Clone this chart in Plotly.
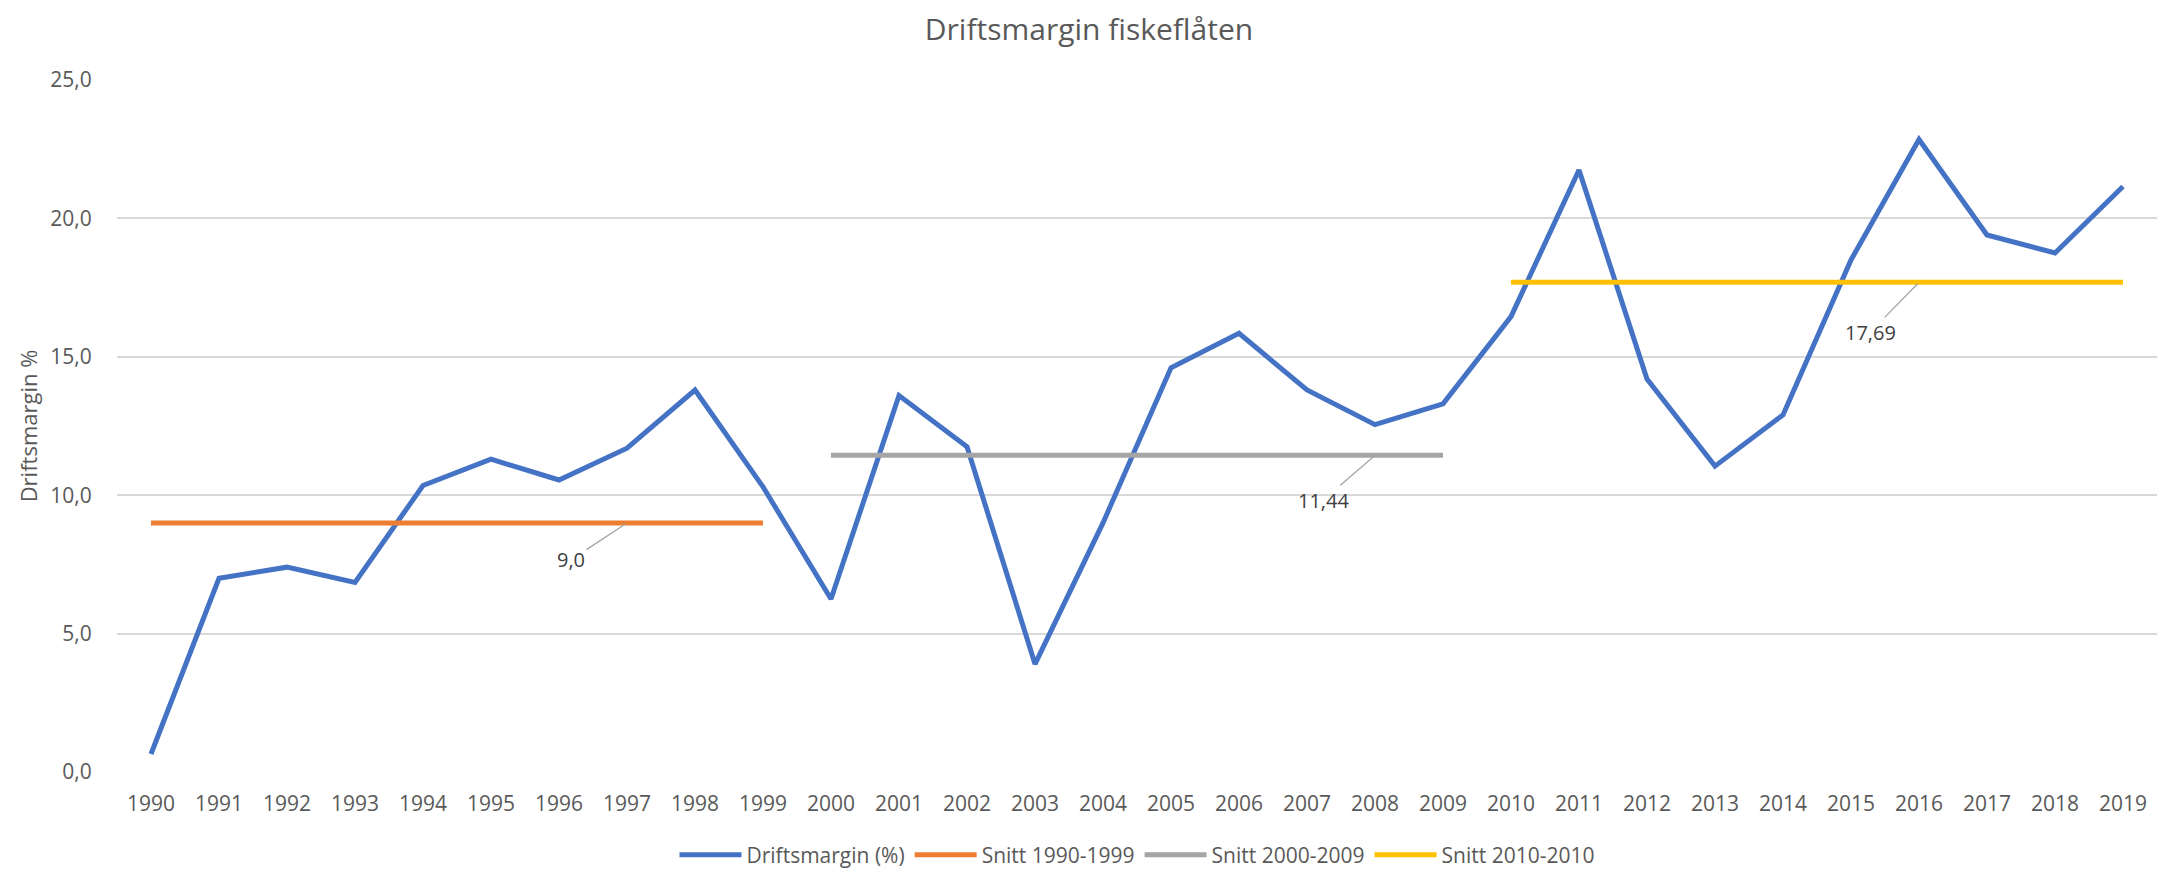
import plotly.graph_objects as go

years = [str(y) for y in range(1990, 2020)]
driftsmargin = [0.65, 7.0, 7.4, 6.85, 10.35, 11.3, 10.55, 11.7, 13.8, 10.3,
                6.25, 13.6, 11.75, 3.9, 9.0, 14.6, 15.85, 13.8, 12.55, 13.3,
                16.45, 21.75, 14.2, 11.05, 12.9, 18.5, 22.85, 19.4, 18.75, 21.15]
years_1990s = years[0:10]
years_2000s = years[10:20]
years_2010s = years[20:30]
snitt_1990s = [9.0] * 10
snitt_2000s = [11.44] * 10
snitt_2010s = [17.69] * 10
label_texts = ["9,0", "11,44", "17,69"]
label_years = ["1997", "2008", "2016"]
label_values = [9.0, 11.44, 17.69]
y_ticks = [0, 5, 10, 15, 20, 25]

FONT = "Open Sans"
TXT = "#595959"

fig = go.Figure()
fig.add_trace(go.Scatter(x=years, y=driftsmargin, mode="lines", name="Driftsmargin (%)",
                         line=dict(color="#4472C4", width=5)))
fig.add_trace(go.Scatter(x=years_1990s, y=snitt_1990s, mode="lines", name="Snitt 1990-1999",
                         line=dict(color="#ED7D31", width=5)))
fig.add_trace(go.Scatter(x=years_2000s, y=snitt_2000s, mode="lines", name="Snitt 2000-2009",
                         line=dict(color="#A5A5A5", width=5)))
fig.add_trace(go.Scatter(x=years_2010s, y=snitt_2010s, mode="lines", name="Snitt 2010-2010",
                         line=dict(color="#FFC000", width=5)))

offsets = [(-56, 37), (-52, 45), (-49, 50)]
for t, xv, yv, (ax, ay) in zip(label_texts, label_years, label_values, offsets):
    fig.add_annotation(x=years.index(xv), y=yv, xref="x", yref="y", text=t, showarrow=True,
                       ax=ax, ay=ay, arrowhead=0, arrowwidth=1.3, arrowcolor="#A5A5A5",
                       standoff=2, font=dict(family=FONT, size=20, color="#404040"))

W, H = 2162, 861
fig.update_layout(
    width=W, height=H,
    paper_bgcolor="white", plot_bgcolor="white",
    separators=",.",
    margin=dict(l=109, r=13, t=72, b=97, autoexpand=False),
    title=dict(text="Driftsmargin fiskeflåten", x=0.5, xanchor="center", y=1 - 21 / H,
               yanchor="middle", font=dict(family=FONT, size=30, color=TXT)),
    font=dict(family=FONT, color=TXT),
    showlegend=True,
    legend=dict(orientation="h", x=0.5, xanchor="center", yref="container", y=(H - 847) / H,
                yanchor="middle",
                font=dict(family=FONT, size=21, color=TXT), itemwidth=62,
                tracegroupgap=0),
    xaxis=dict(type="category", range=[-0.5, 29.5], showgrid=False, zeroline=False,
               showline=False, ticks="outside", ticklen=13, tickcolor="rgba(0,0,0,0)",
               tickfont=dict(family=FONT, size=21, color=TXT), automargin=False),
    yaxis=dict(range=[0, 25], tickvals=y_ticks, tickformat=".1f", showgrid=True,
               gridcolor="#D9D9D9", gridwidth=1.6, zeroline=False, showline=False,
               ticks="outside", ticklen=20, tickcolor="rgba(0,0,0,0)",
               tickfont=dict(family=FONT, size=21, color=TXT), automargin=False,
               title=dict(text="Driftsmargin %", font=dict(family=FONT, size=22, color=TXT),
                          standoff=6)),
)

fig.write_html("out.html")
